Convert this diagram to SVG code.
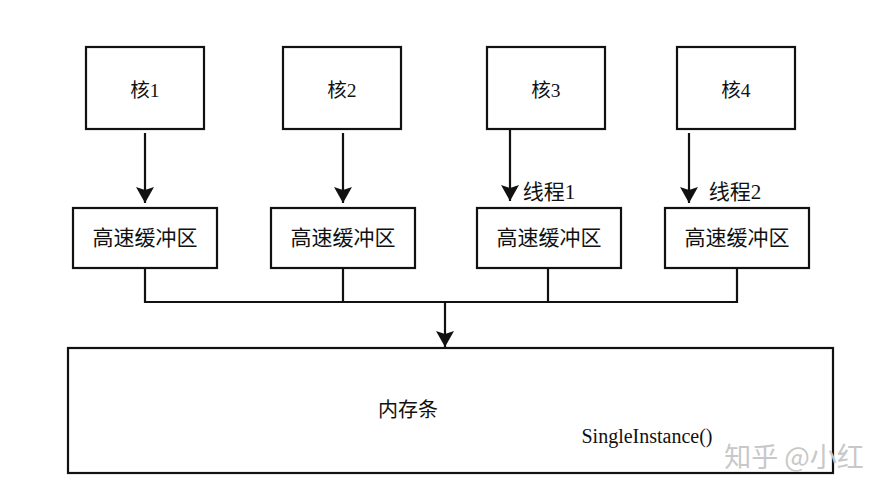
<svg xmlns="http://www.w3.org/2000/svg" width="883" height="489" viewBox="0 0 883 489">
<style>
.box{fill:#fff;stroke:#111;stroke-width:2.2}
.ln{fill:none;stroke:#111;stroke-width:2.2}
.t{font-family:"Liberation Serif","Noto Sans CJK SC",serif;fill:#111;text-anchor:middle;dominant-baseline:central}
.c{font-size:19.5px}
.b{font-size:21px}
.th{font-size:21px}
.wm{font-family:"Noto Sans CJK SC",sans-serif;font-size:27px;fill:#c8c8c8;text-anchor:middle;dominant-baseline:central}
</style>
<defs>
<marker id="ad" markerUnits="userSpaceOnUse" markerWidth="20" markerHeight="20" refX="10" refY="17" orient="0" viewBox="0 0 20 20">
<path d="M1,1 L10,4 L19,1 L10,17 Z" fill="#111"/>
</marker>
</defs>
<rect width="883" height="489" fill="#fff"/>
<g id="core1"><rect class="box" x="86" y="47" width="118" height="82"/><text class="t c" x="145" y="90">核1</text></g>
<g id="core2"><rect class="box" x="283" y="47" width="118" height="82"/><text class="t c" x="342" y="90">核2</text></g>
<g id="core3"><rect class="box" x="487" y="47" width="118" height="82"/><text class="t c" x="546" y="90">核3</text></g>
<g id="core4"><rect class="box" x="677" y="47" width="118" height="82"/><text class="t c" x="736" y="90">核4</text></g>
<g id="buf1"><rect class="box" x="73" y="208" width="144" height="60"/><text class="t b" x="145" y="238">高速缓冲区</text></g>
<g id="buf2"><rect class="box" x="271" y="208" width="144" height="60"/><text class="t b" x="343" y="238">高速缓冲区</text></g>
<g id="buf3"><rect class="box" x="477" y="208" width="144" height="60"/><text class="t b" x="549" y="238">高速缓冲区</text></g>
<g id="buf4"><rect class="box" x="665" y="208" width="144" height="60"/><text class="t b" x="737" y="238">高速缓冲区</text></g>
<g id="memory"><rect class="box" x="68" y="348" width="765" height="125"/>
<text class="t" style="font-size:20px" x="408" y="410">内存条</text>
<text class="t" style="font-size:20px" x="647" y="436">SingleInstance()</text></g>
<g id="connectors">
<line class="ln" x1="145" y1="133" x2="145" y2="203" marker-end="url(#ad)"/>
<line class="ln" x1="343" y1="133" x2="343" y2="203" marker-end="url(#ad)"/>
<line class="ln" x1="510" y1="129" x2="510" y2="201" marker-end="url(#ad)"/>
<line class="ln" x1="689" y1="133" x2="689" y2="203" marker-end="url(#ad)"/>
<text class="t th" x="549" y="192">线程1</text>
<text class="t th" x="735" y="192">线程2</text>
<polyline class="ln" points="145,268 145,302 737,302 737,268"/>
<line class="ln" x1="343" y1="268" x2="343" y2="302"/>
<line class="ln" x1="548" y1="268" x2="548" y2="302"/>
<line class="ln" x1="445" y1="302" x2="445" y2="347" marker-end="url(#ad)"/>
</g>
<text class="wm" x="794" y="455">知乎 @小红</text>
</svg>
